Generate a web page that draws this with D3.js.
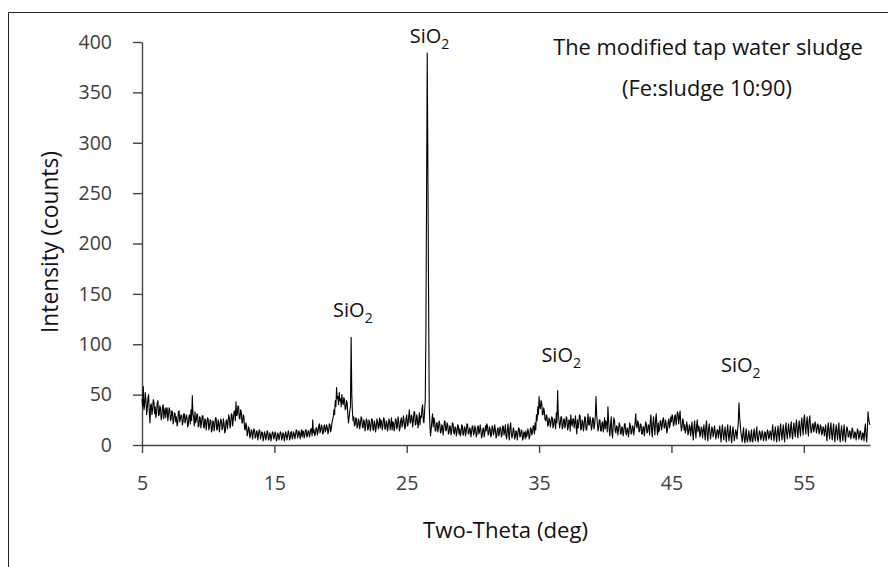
<!DOCTYPE html>
<html><head><meta charset="utf-8">
<script src="https://cdn.jsdelivr.net/npm/d3@7"></script>
<style>
html,body{margin:0;padding:0;background:#fff;}
svg{display:block;font-family:"Open Sans",sans-serif;}
</style>
</head><body>
<svg id="chart" width="888" height="567"></svg>
<script>
// ---- data ----
const scanStart = 5.0;   // deg 2-theta of first sample
const scanStep = 0.05;   // deg between samples
const intensity = [
 46,38,58,35,40,52,44,30,36,47,50,33,22,39,41,30,35,45,43,31,   // 5
 38,27,32,42,44,29,30,39,36,25,28,38,40,26,33,37,27,35,37,24,   // 6
 30,37,35,24,26,34,33,21,24,32,31,23,28,19,22,33,34,23,26,30,   // 7
 29,20,23,31,31,22,25,30,27,18,20,29,30,21,35,24,49,31,28,19,   // 8
 33,22,24,31,30,18,19,28,27,17,22,29,29,18,17,26,25,15,21,27,   // 9
 26,15,18,25,24,13,15,24,23,14,19,27,27,15,16,25,22,13,20,26,   // 10
 24,15,17,26,21,12,14,24,25,16,22,30,27,17,20,31,30,19,26,33,   // 11
 34,24,43,29,30,39,38,26,26,35,33,22,22,30,28,16,15,22,19,9,    // 12
 12,18,16,7,9,15,14,6,11,16,15,7,8,14,13,5,10,15,14,6,          // 13
 9,13,12,4,7,13,11,5,8,14,13,5,6,12,10,4,9,13,12,6,             // 14
 8,13,11,4,6,12,10,5,9,13,12,5,7,12,11,4,8,13,10,5,             // 15
 9,14,12,5,7,13,13,6,8,13,11,6,10,15,14,7,9,14,12,6,            // 16
 11,15,8,14,13,7,10,15,15,8,9,14,14,8,11,16,16,9,25,12,         // 17
 15,9,11,17,17,10,13,19,21,12,14,20,18,11,12,19,20,13,15,20,    // 18
 17,11,14,21,20,13,16,22,25,28,35,30,44,38,57,46,48,40,52,44,   // 19
 46,38,50,42,40,47,45,35,36,44,42,30,22,28,34,38,107,50,32,24,  // 20
 28,19,20,27,26,17,18,26,24,16,21,28,27,18,17,25,23,14,19,26,   // 21
 24,15,16,25,22,14,19,26,25,15,15,24,21,13,18,26,23,16,20,27,   // 22
 17,25,23,15,19,27,26,16,16,24,22,14,18,26,24,15,20,27,15,23,   // 23
 22,14,18,26,25,16,19,28,23,14,17,25,27,18,21,29,24,16,18,27,   // 24
 30,19,20,29,35,22,22,30,28,18,24,33,33,20,21,30,26,17,23,32,   // 25
 20,29,27,36,40,24,22,34,44,116,250,389,270,150,38,20,9,16,24,31, // 26
 18,27,25,14,14,22,22,13,17,24,21,12,13,20,19,10,16,24,23,14,   // 27
 15,22,20,11,12,19,18,10,14,22,21,12,11,18,17,9,13,20,19,11,    // 28
 16,9,12,20,19,10,10,18,17,9,14,21,20,11,11,17,16,8,13,19,      // 29
 18,10,12,19,16,8,10,18,19,11,13,20,15,7,9,16,17,8,12,19,       // 30
 14,21,19,10,11,18,16,8,10,19,18,10,13,20,15,7,9,16,17,9,       // 31
 12,18,16,8,10,19,18,10,13,20,9,6,15,21,11,5,17,22,12,7,        // 32
 10,17,15,6,8,14,13,5,11,17,16,8,9,15,14,5,7,13,12,6,           // 33
 14,8,10,16,13,6,8,17,16,10,12,19,18,11,22,15,30,24,38,30,      // 34
 48,38,36,44,42,30,30,37,33,25,24,30,28,19,20,27,25,18,22,28,   // 35
 27,17,19,26,24,16,32,22,54,30,25,17,21,28,28,16,18,25,26,17,   // 36
 20,28,27,15,17,25,24,14,30,21,19,26,26,17,22,29,18,11,25,17,   // 37
 21,30,29,15,16,25,23,14,19,28,27,15,15,23,31,20,20,28,24,15,   // 38
 18,27,26,16,20,29,48,30,22,14,17,25,25,14,14,22,23,13,19,27,   // 39
 16,24,22,13,38,24,15,9,21,28,13,7,19,27,24,14,12,19,18,10,     // 40
 15,22,20,11,11,18,17,9,13,21,21,12,10,17,16,8,14,22,19,11,     // 41
 12,19,18,10,15,22,31,20,17,24,22,13,14,21,20,11,11,18,18,9,    // 42
 16,23,21,12,13,20,19,10,24,30,15,8,22,28,17,10,25,31,18,10,    // 43
 22,13,16,24,24,15,19,26,27,17,17,25,21,12,15,23,26,17,20,28,   // 44
 23,30,28,19,21,29,30,20,25,33,31,21,27,34,22,14,18,26,24,15,   // 45
 20,12,15,23,19,10,13,20,18,9,16,23,12,5,17,24,14,7,19,25,      // 46
 13,19,17,8,11,18,16,7,14,20,12,5,18,24,10,4,15,21,13,6,        // 47
 11,18,16,8,12,19,14,6,9,15,15,7,13,19,10,3,14,20,11,5,         // 48
 12,18,9,3,14,20,10,4,13,19,8,2,12,18,11,4,9,15,13,6,           // 49
 15,22,42,28,20,12,8,3,12,17,6,2,10,16,5,3,9,14,7,3,            // 50
 10,15,4,3,11,16,7,4,13,18,6,3,9,14,12,5,8,14,11,4,             // 51
 7,13,12,4,9,15,13,6,8,14,11,5,14,20,10,4,12,18,9,3,            // 52
 13,19,10,4,15,21,11,5,14,20,9,3,16,22,12,6,15,21,13,7,         // 53
 17,23,12,6,16,22,14,8,19,25,13,7,18,24,15,9,21,27,17,10,       // 54
 25,30,18,11,22,28,16,9,24,29,19,12,14,21,21,13,17,23,20,12,    // 55
 15,21,19,11,13,20,18,10,12,18,17,9,14,20,10,4,16,22,12,6,      // 56
 17,22,11,5,15,21,9,3,14,20,12,5,16,22,8,3,13,19,11,4,          // 57
 14,20,9,3,12,18,16,8,8,14,13,6,10,17,15,7,7,13,12,5,           // 58
 10,16,14,6,8,14,13,5,6,12,11,4,15,21,9,3,14,33,26,22,          // 59
 20                                                             // 60
];
const xTicks = [5, 15, 25, 35, 45, 55];
const yTicks = [0, 50, 100, 150, 200, 250, 300, 350, 400];
const xDomain = [5, 60];
const yDomain = [0, 400];
const peakLabelTheta = [26.72, 20.93, 36.67, 50.24];
const peakLabelCounts = [399, 126.7, 82.7, 72.8];
const peakName = ["SiO", "2"];
const titleLines = ["The modified tap water sludge", "(Fe:sludge 10:90)"];
const xTitle = "Two-Theta (deg)";
const yTitle = "Intensity (counts)";

// ---- drawing ----
const svg = d3.select("#chart");
const x = d3.scaleLinear().domain(xDomain).range([142, 870]);
const y = d3.scaleLinear().domain(yDomain).range([445, 42]);

// outer frame (left and top edges visible)
svg.append("path").attr("d", "M8.5,567 V12.5 H888")
  .attr("fill", "none").attr("stroke", "#222").attr("stroke-width", 1);

const axisColor = "#444";
const tickColor = "#404040";

const gy = svg.append("g").attr("transform", "translate(142,0)")
  .call(d3.axisLeft(y).tickValues(yTicks).tickSize(9).tickSizeOuter(0).tickPadding(21));
const gx = svg.append("g").attr("transform", "translate(0,445)")
  .call(d3.axisBottom(x).tickValues(xTicks).tickSize(8).tickSizeOuter(0).tickPadding(23));
[gx, gy].forEach(g => {
  g.select(".domain").attr("stroke", axisColor).attr("stroke-width", 1.4);
  g.selectAll(".tick line").attr("stroke", axisColor).attr("stroke-width", 1.4);
  g.selectAll(".tick text").attr("fill", tickColor)
    .style("font-family", '"Open Sans",sans-serif').style("font-size", "19.5px");
});

// data line
const pts = intensity.map((v, i) => ({t: scanStart + i * scanStep, v}));
svg.append("path").datum(pts)
  .attr("fill", "none").attr("stroke", "#000").attr("stroke-width", 1.1)
  .attr("stroke-linejoin", "round")
  .attr("d", d3.line().x(d => x(d.t)).y(d => y(d.v)));

// helper: fit font size to a target width
function fit(sel, target, base) {
  sel.style("font-size", base + "px");
  const w = sel.node().getComputedTextLength();
  sel.style("font-size", (base * target / w) + "px");
}

// titles
const t1 = svg.append("text").attr("x", 708).attr("y", 55).attr("text-anchor", "middle")
  .attr("fill", "#111").text(titleLines[0]);
fit(t1, 310, 20);
const t2 = svg.append("text").attr("x", 707).attr("y", 96).attr("text-anchor", "middle")
  .attr("fill", "#111").text(titleLines[1]);
fit(t2, 170, 20);

const xt = svg.append("text").attr("x", 505.5).attr("y", 538).attr("text-anchor", "middle")
  .attr("fill", "#111").text(xTitle);
fit(xt, 165, 20);
const yt = svg.append("text").attr("transform", "translate(58,242) rotate(-90)")
  .attr("text-anchor", "middle").attr("fill", "#111").text(yTitle);
fit(yt, 182, 20);

// peak labels
peakLabelTheta.forEach((th, i) => {
  const t = svg.append("text").attr("x", x(th)).attr("y", y(peakLabelCounts[i]))
    .attr("text-anchor", "middle").attr("fill", "#111").style("font-size", "20px");
  t.append("tspan").text(peakName[0]);
  t.append("tspan").attr("dy", 6).style("font-size", "14px").text(peakName[1]);
});
</script>
</body></html>
